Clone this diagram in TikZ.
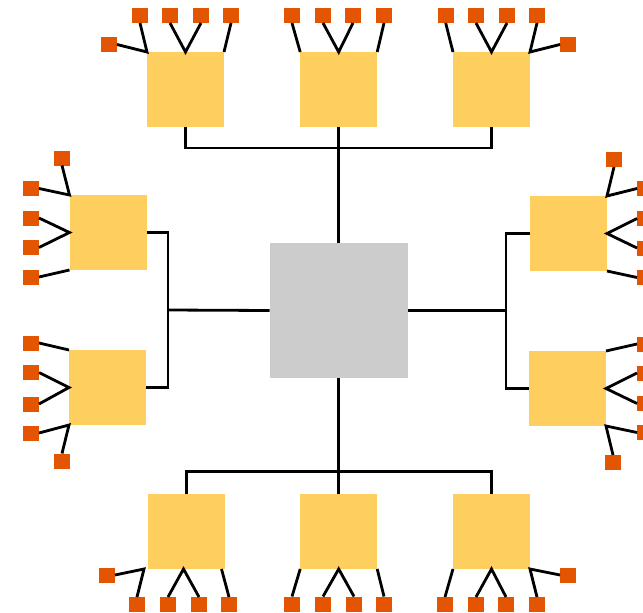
\documentclass[tikz,border=0pt]{standalone}
\definecolor{yel}{HTML}{FECE5E}
\definecolor{org}{HTML}{E35500}
\definecolor{gry}{HTML}{CCCCCC}
\begin{document}
\begin{tikzpicture}[x=1pt,y=-1pt,
 ybox/.style={fill=yel,minimum width=77pt,minimum height=75pt,inner sep=0pt,outer sep=0pt},
 cbox/.style={fill=gry,minimum width=138pt,minimum height=135pt,inner sep=0pt,outer sep=0pt},
 port/.style={fill=org,minimum width=16pt,minimum height=15pt,inner sep=0pt,outer sep=0pt},
 link/.style={line width=2.8pt,black}]
\clip (0,0) rectangle (643,613);
% boxes
\node[cbox] (C) at (338.7,310.5) {};
\node[ybox] (T1) at (185.5,89.5) {};
\node[ybox] (T2) at (338.7,89.5) {};
\node[ybox] (T3) at (491.5,89.5) {};
\node[ybox] (L1) at (108,232.5) {};
\node[ybox] (L2) at (107.5,387.5) {};
\node[ybox] (R1) at (568.5,233.5) {};
\node[ybox] (R2) at (567.5,388.5) {};
\node[ybox] (B1) at (186.5,531.5) {};
\node[ybox] (B2) at (338.7,531.5) {};
\node[ybox] (B3) at (491.5,531.5) {};
% ports
\node[port] (t1a) at (140,15.5) {};
\node[port] (t1b) at (170,15.5) {};
\node[port] (t1c) at (201,15.5) {};
\node[port] (t1d) at (231,15.5) {};
\node[port] (t1e) at (109,44.5) {};
\node[port] (t2a) at (292,15.5) {};
\node[port] (t2b) at (323,15.5) {};
\node[port] (t2c) at (353,15.5) {};
\node[port] (t2d) at (384,15.5) {};
\node[port] (t3a) at (445.7,15.5) {};
\node[port] (t3b) at (476,15.5) {};
\node[port] (t3c) at (507,15.5) {};
\node[port] (t3d) at (537,15.5) {};
\node[port] (t3e) at (568,44.5) {};
\node[port] (l1a) at (62,158) {};
\node[port] (l1b) at (31,188.5) {};
\node[port] (l1c) at (31,218) {};
\node[port] (l1d) at (31,247.5) {};
\node[port] (l1e) at (31,277) {};
\node[port] (l2a) at (31,343) {};
\node[port] (l2b) at (31,372.5) {};
\node[port] (l2c) at (31,404) {};
\node[port] (l2d) at (31,433) {};
\node[port] (l2e) at (62,461) {};
\node[port] (r1a) at (614,159.5) {};
\node[port] (r1b) at (645,188.5) {};
\node[port] (r1c) at (645,218.5) {};
\node[port] (r1d) at (645,248) {};
\node[port] (r1e) at (645,277.5) {};
\node[port] (r2a) at (645,344) {};
\node[port] (r2b) at (645,373) {};
\node[port] (r2c) at (645,403.5) {};
\node[port] (r2d) at (645,432.5) {};
\node[port] (r2e) at (613,462.5) {};
\node[port] (b1a) at (107,575) {};
\node[port] (b1b) at (137,604.5) {};
\node[port] (b1c) at (168,604.5) {};
\node[port] (b1d) at (199,604.5) {};
\node[port] (b1e) at (229,604.5) {};
\node[port] (b2a) at (292,604) {};
\node[port] (b2b) at (323,604) {};
\node[port] (b2c) at (354,604) {};
\node[port] (b2d) at (384,604) {};
\node[port] (b3a) at (445,604.5) {};
\node[port] (b3b) at (476,604.5) {};
\node[port] (b3c) at (506,604.5) {};
\node[port] (b3d) at (537,604.5) {};
\node[port] (b3e) at (568,575) {};
% bus coordinates
\coordinate (tb) at (338.7,148);
\coordinate (lb) at (168,310);
\coordinate (rb) at (506,310.5);
\coordinate (bb) at (338.7,471.7);
% buses
\draw[link] (T1.south) |- (tb) -| (T3.south);
\draw[link] (T2.south) -- (C.north);
\draw[link] (L1.east) -| (lb) |- (L2.east);
\draw[link] (C.west) -- (lb);
\draw[link] (R1.west) -| (rb) |- (R2.west);
\draw[link] (C.east) -- (rb);
\draw[link] (B1.north) |- (bb) -| (B3.north);
\draw[link] (B2.north) -- (C.south);
% port links top
\draw[link] (t1e.east) -- (T1.north west) -- (t1a.south);
\draw[link] (t1b.south) -- (T1.north) -- (t1c.south);
\draw[link] (t1d.south) -- (T1.north east);
\draw[link] (t2a.south) -- (T2.north west);
\draw[link] (t2b.south) -- (T2.north) -- (t2c.south);
\draw[link] (t2d.south) -- (T2.north east);
\draw[link] (t3a.south) -- (T3.north west);
\draw[link] (t3b.south) -- (T3.north) -- (t3c.south);
\draw[link] (t3d.south) -- (T3.north east) -- (t3e.west);
% left
\draw[link] (l1a.south) -- (L1.north west) -- (l1b.east);
\draw[link] (l1c.east) -- (L1.west) -- (l1d.east);
\draw[link] (l1e.east) -- (L1.south west);
\draw[link] (l2a.east) -- (L2.north west);
\draw[link] (l2b.east) -- (L2.west) -- (l2c.east);
\draw[link] (l2d.east) -- (L2.south west) -- (l2e.north);
% right
\draw[link] (r1a.south) -- (R1.north east) -- (r1b.west);
\draw[link] (r1c.west) -- (R1.east) -- (r1d.west);
\draw[link] (r1e.west) -- (R1.south east);
\draw[link] (r2a.west) -- (R2.north east);
\draw[link] (r2b.west) -- (R2.east) -- (r2c.west);
\draw[link] (r2d.west) -- (R2.south east) -- (r2e.north);
% bottom
\draw[link] (b1a.east) -- ([xshift=-4pt]B1.south west) -- (b1b.north);
\draw[link] (b1c.north) -- ([xshift=-3pt]B1.south) -- (b1d.north);
\draw[link] (b1e.north) -- ([xshift=-3.5pt]B1.south east);
\draw[link] (b2a.north) -- (B2.south west);
\draw[link] (b2b.north) -- (B2.south) -- (b2c.north);
\draw[link] (b2d.north) -- (B2.south east);
\draw[link] (b3a.north) -- (B3.south west);
\draw[link] (b3b.north) -- (B3.south) -- (b3c.north);
\draw[link] (b3d.north) -- (B3.south east) -- (b3e.west);
\end{tikzpicture}
\end{document}
